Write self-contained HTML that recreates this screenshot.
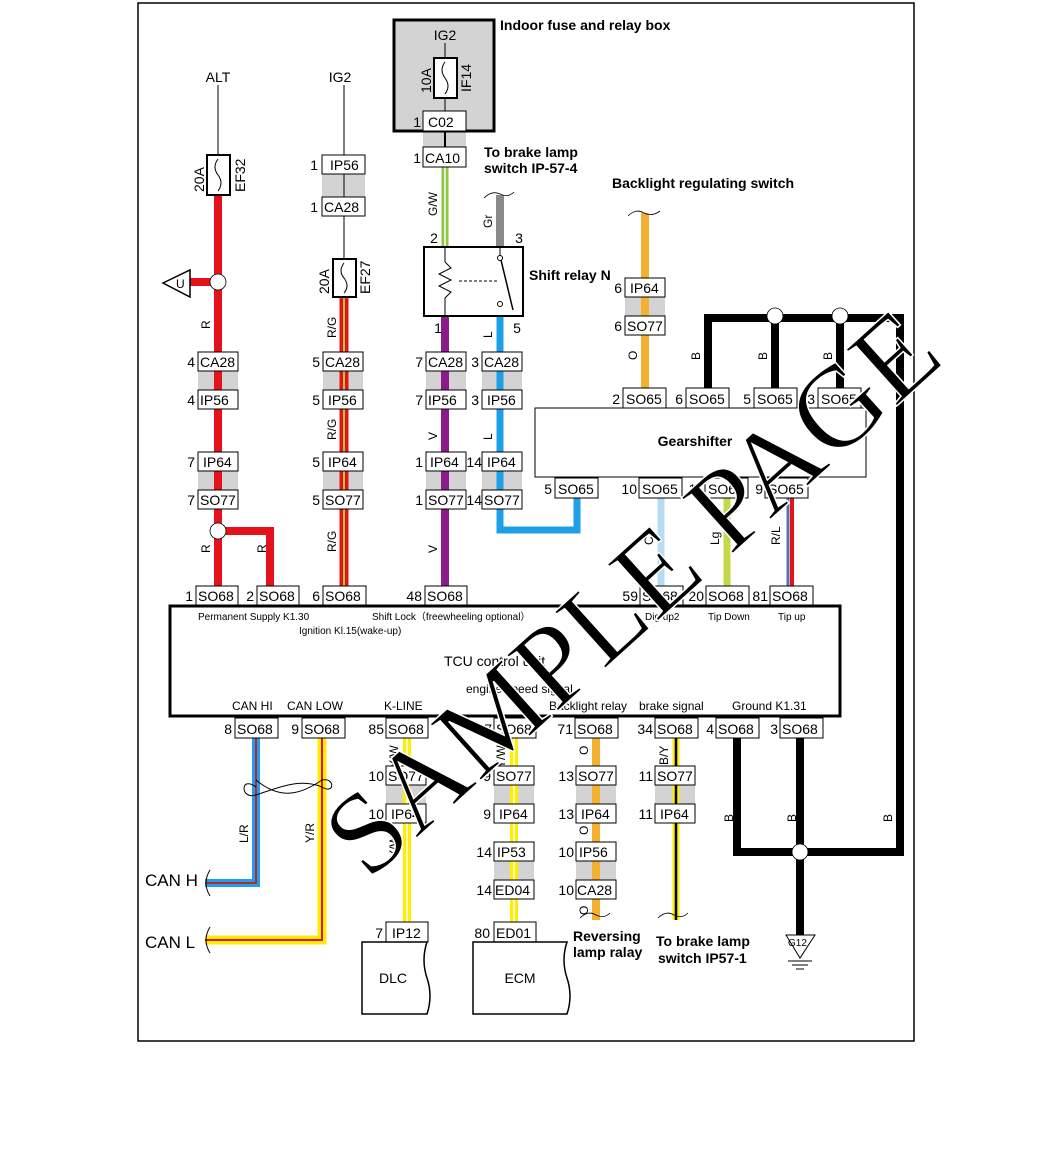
<!DOCTYPE html>
<html><head><meta charset="utf-8"><style>
html,body{margin:0;padding:0;background:#fff}
svg{display:block}
text{font-family:"Liberation Sans",sans-serif}
.c{fill:#fff;stroke:#000;stroke-width:1}
.t{font-size:14px}
.n{font-size:14px;text-anchor:end}
.b{font-weight:bold;font-size:14px}
.s{font-size:10px}
.l{font-size:12px}
</style></head><body>
<svg width="1053" height="1153" viewBox="0 0 1053 1153" xmlns="http://www.w3.org/2000/svg">
<rect x="138" y="3" width="776" height="1038" fill="none" stroke="#000" stroke-width="1.5"/>

<g fill="#d3d3d3">
<rect x="322" y="174" width="43" height="23"/>
<rect x="198" y="371" width="40" height="19"/><rect x="323" y="371" width="40" height="19"/><rect x="426" y="371" width="40" height="19"/><rect x="482" y="371" width="40" height="19"/>
<rect x="198" y="471" width="40" height="19"/><rect x="323" y="471" width="40" height="19"/><rect x="426" y="471" width="40" height="19"/><rect x="482" y="471" width="40" height="19"/>
<rect x="625" y="297" width="40" height="19"/>
<rect x="423" y="131" width="43" height="16"/>
<rect x="386" y="785" width="40" height="19"/><rect x="494" y="785" width="40" height="19"/><rect x="576" y="785" width="40" height="19"/><rect x="655" y="785" width="40" height="19"/>
<rect x="494" y="861" width="40" height="19"/><rect x="576" y="861" width="40" height="19"/>
</g>

<rect x="394" y="20" width="100" height="111" fill="#d3d3d3" stroke="#000" stroke-width="3"/>
<text x="445" y="40" class="t" text-anchor="middle">IG2</text>
<line x1="445" y1="43" x2="445" y2="58" stroke="#000"/>
<rect x="434" y="58" width="23" height="40" fill="#fff" stroke="#000" stroke-width="2"/>
<path d="M445 62 q-6 8 0 16 q6 8 0 16" fill="none" stroke="#000"/>
<text transform="translate(431,93) rotate(-90)" class="t">10A</text>
<text transform="translate(471,92) rotate(-90)" class="t">IF14</text>
<line x1="445" y1="98" x2="445" y2="111" stroke="#000"/>
<rect x="423" y="111" width="43" height="20" class="c"/><text x="428" y="127" class="t">C02</text><text x="421" y="127" class="n">1</text>
<line x1="445" y1="131" x2="445" y2="147" stroke="#000" stroke-width="2"/>
<text x="500" y="30" class="b">Indoor fuse and relay box</text>

<line x1="218" y1="85" x2="218" y2="155" stroke="#000"/>
<line x1="218" y1="195" x2="218" y2="587" stroke="#e3121c" stroke-width="8"/>
<line x1="190" y1="282" x2="218" y2="282" stroke="#e3121c" stroke-width="8"/>
<polyline points="218,531 270,531 270,587" fill="none" stroke="#e3121c" stroke-width="8"/>
<line x1="344" y1="85" x2="344" y2="260" stroke="#000"/>
<line x1="344" y1="297" x2="344" y2="587" stroke="#e3121c" stroke-width="9"/>
<line x1="344" y1="297" x2="344" y2="587" stroke="#a8d030" stroke-width="2"/>
<line x1="445" y1="167" x2="445" y2="247" stroke="#8dc63f" stroke-width="7"/>
<line x1="445" y1="167" x2="445" y2="247" stroke="#fff" stroke-width="1.5"/>
<line x1="500" y1="195" x2="500" y2="247" stroke="#8a8a8a" stroke-width="8"/>
<path d="M484 198 q8 -8 16 -4 q8 4 14 -2" fill="none" stroke="#000" stroke-width="0.8"/>
<line x1="445" y1="316" x2="445" y2="587" stroke="#8b1a8b" stroke-width="8"/>
<polyline points="500,316 500,530 577,530 577,497" fill="none" stroke="#1ea0e6" stroke-width="7"/>
<line x1="645" y1="213" x2="645" y2="390" stroke="#f4b030" stroke-width="8"/>
<path d="M628 216 q8 -8 16 -3 q8 4 16 -2" fill="none" stroke="#000" stroke-width="0.8"/>
<polyline points="708,390 708,318 900,318 900,852 737,852 737,737" fill="none" stroke="#000" stroke-width="8"/>
<line x1="775" y1="318" x2="775" y2="390" stroke="#000" stroke-width="8"/>
<line x1="840" y1="318" x2="840" y2="390" stroke="#000" stroke-width="8"/>
<line x1="800" y1="737" x2="800" y2="935" stroke="#000" stroke-width="8"/>
<circle cx="775" cy="316" r="8" fill="#fff" stroke="#000" stroke-width="0.8"/>
<circle cx="840" cy="316" r="8" fill="#fff" stroke="#000" stroke-width="0.8"/>
<circle cx="800" cy="852" r="8" fill="#fff" stroke="#000" stroke-width="0.8"/>
<line x1="661" y1="498" x2="661" y2="587" stroke="#b5dcf2" stroke-width="7"/>
<line x1="727" y1="498" x2="727" y2="587" stroke="#c5d84a" stroke-width="7"/>
<line x1="788" y1="498" x2="788" y2="587" stroke="#5a6fb0" stroke-width="3"/>
<line x1="792" y1="498" x2="792" y2="587" stroke="#e3121c" stroke-width="4"/>
<polyline points="256,737 256,883 205,883" fill="none" stroke="#1ea0e6" stroke-width="8"/>
<polyline points="256,737 256,883 205,883" fill="none" stroke="#c0203a" stroke-width="2"/>
<polyline points="322,737 322,940 205,940" fill="none" stroke="#ffee00" stroke-width="9"/>
<polyline points="322,737 322,940 205,940" fill="none" stroke="#e3121c" stroke-width="2"/>
<path d="M256 787 C240 775,240 800,256 795 C280 787,300 778,322 787 C335 795,335 777,322 780 C300 795,280 800,256 780" fill="none" stroke="#000" stroke-width="1"/>
<line x1="407" y1="737" x2="407" y2="922" stroke="#ffee00" stroke-width="8"/>
<line x1="407" y1="737" x2="407" y2="922" stroke="#fff" stroke-width="1.5"/>
<line x1="514" y1="737" x2="514" y2="922" stroke="#ffee00" stroke-width="8"/>
<line x1="514" y1="737" x2="514" y2="922" stroke="#fff" stroke-width="1.5"/>
<line x1="596" y1="737" x2="596" y2="920" stroke="#f4b030" stroke-width="8"/>
<path d="M580 918 q8 -8 16 -3 q8 4 14 -2" fill="none" stroke="#000" stroke-width="0.8"/>
<line x1="676" y1="737" x2="676" y2="920" stroke="#ffee00" stroke-width="7"/>
<line x1="676" y1="737" x2="676" y2="920" stroke="#000" stroke-width="2.5"/>
<path d="M658 918 q8 -8 16 -3 q8 4 14 -2" fill="none" stroke="#000" stroke-width="0.8"/>

<rect x="207" y="155" width="23" height="40" fill="#fff" stroke="#000" stroke-width="2"/>
<path d="M218 159 q-6 8 0 16 q6 8 0 16" fill="none" stroke="#000"/>
<text transform="translate(204,192) rotate(-90)" class="t">20A</text>
<text transform="translate(245,192) rotate(-90)" class="t">EF32</text>
<rect x="333" y="259" width="23" height="38" fill="#fff" stroke="#000" stroke-width="2"/>
<path d="M344 263 q-6 8 0 15 q6 8 0 15" fill="none" stroke="#000"/>
<text transform="translate(329,294) rotate(-90)" class="t">20A</text>
<text transform="translate(370,294) rotate(-90)" class="t">EF27</text>
<text x="218" y="82" class="t" text-anchor="middle">ALT</text>
<text x="340" y="82" class="t" text-anchor="middle">IG2</text>

<polygon points="163,283 190,270 190,297" fill="#fff" stroke="#000" stroke-width="1.5"/>
<text x="176" y="288" class="l">U</text>
<circle cx="218" cy="282" r="8" fill="#fff" stroke="#000" stroke-width="0.8"/>
<circle cx="218" cy="531" r="8" fill="#fff" stroke="#000" stroke-width="0.8"/>

<rect x="424" y="247" width="99" height="69" fill="#fff" stroke="#000" stroke-width="2"/>
<line x1="445" y1="247" x2="445" y2="262" stroke="#000"/>
<polyline points="445,262 451,268 439,274 451,280 439,286 451,292 445,298 445,316" fill="none" stroke="#000"/>
<line x1="459" y1="281" x2="497" y2="281" stroke="#000" stroke-dasharray="3,2"/>
<line x1="500" y1="247" x2="500" y2="256" stroke="#000"/>
<circle cx="500" cy="258" r="2.5" fill="#fff" stroke="#000"/>
<line x1="501" y1="260" x2="513" y2="310" stroke="#000" stroke-width="1.5"/>
<circle cx="500" cy="304" r="2.5" fill="#fff" stroke="#000"/>
<text x="434" y="243" class="t" text-anchor="middle">2</text><text x="519" y="243" class="t" text-anchor="middle">3</text>
<text x="438" y="333" class="t" text-anchor="middle">1</text><text x="517" y="333" class="t" text-anchor="middle">5</text>
<text x="529" y="280" class="b">Shift relay N</text>
<text x="484" y="157" class="b">To brake lamp</text>
<text x="484" y="173" class="b">switch IP-57-4</text>
<text x="612" y="188" class="b">Backlight regulating switch</text>

<g class="l">
<text transform="translate(210,329) rotate(-90)">R</text>
<text transform="translate(336,338) rotate(-90)">R/G</text>
<text transform="translate(336,440) rotate(-90)">R/G</text>
<text transform="translate(336,552) rotate(-90)">R/G</text>
<text transform="translate(437,216) rotate(-90)">G/W</text>
<text transform="translate(492,228) rotate(-90)">Gr</text>
<text transform="translate(492,338) rotate(-90)">L</text>
<text transform="translate(437,440) rotate(-90)">V</text>
<text transform="translate(492,440) rotate(-90)">L</text>
<text transform="translate(437,553) rotate(-90)">V</text>
<text transform="translate(210,553) rotate(-90)">R</text>
<text transform="translate(266,553) rotate(-90)">R</text>
<text transform="translate(637,360) rotate(-90)">O</text>
<text transform="translate(700,360) rotate(-90)">B</text>
<text transform="translate(767,360) rotate(-90)">B</text>
<text transform="translate(832,360) rotate(-90)">B</text>
<text transform="translate(653,545) rotate(-90)">C</text>
<text transform="translate(719,545) rotate(-90)">Lg</text>
<text transform="translate(780,545) rotate(-90)">R/L</text>
<text transform="translate(248,843) rotate(-90)">L/R</text>
<text transform="translate(314,843) rotate(-90)">Y/R</text>
<text transform="translate(398,768) rotate(-90)">Y/W</text>
<text transform="translate(398,858) rotate(-90)">Y/W</text>
<text transform="translate(505,768) rotate(-90)">Y/W</text>
<text transform="translate(588,755) rotate(-90)">O</text>
<text transform="translate(588,835) rotate(-90)">O</text>
<text transform="translate(588,915) rotate(-90)">O</text>
<text transform="translate(668,765) rotate(-90)">B/Y</text>
<text transform="translate(733,822) rotate(-90)">B</text>
<text transform="translate(796,822) rotate(-90)">B</text>
<text transform="translate(892,822) rotate(-90)">B</text>
</g>

<g>
<rect x="322" y="155" width="43" height="19" class="c"/><text x="330" y="170" class="t">IP56</text><text x="318" y="170" class="n">1</text>
<rect x="322" y="197" width="43" height="19" class="c"/><text x="324" y="212" class="t">CA28</text><text x="318" y="212" class="n">1</text>
<rect x="423" y="147" width="43" height="20" class="c"/><text x="425" y="163" class="t">CA10</text><text x="421" y="163" class="n">1</text>

<rect x="198" y="352" width="40" height="19" class="c"/><text x="200" y="367" class="t">CA28</text><text x="195" y="367" class="n">4</text>
<rect x="198" y="390" width="40" height="19" class="c"/><text x="200" y="405" class="t">IP56</text><text x="195" y="405" class="n">4</text>
<rect x="198" y="452" width="40" height="19" class="c"/><text x="203" y="467" class="t">IP64</text><text x="195" y="467" class="n">7</text>
<rect x="198" y="490" width="40" height="19" class="c"/><text x="200" y="505" class="t">SO77</text><text x="195" y="505" class="n">7</text>

<rect x="323" y="352" width="40" height="19" class="c"/><text x="325" y="367" class="t">CA28</text><text x="320" y="367" class="n">5</text>
<rect x="323" y="390" width="40" height="19" class="c"/><text x="328" y="405" class="t">IP56</text><text x="320" y="405" class="n">5</text>
<rect x="323" y="452" width="40" height="19" class="c"/><text x="328" y="467" class="t">IP64</text><text x="320" y="467" class="n">5</text>
<rect x="323" y="490" width="40" height="19" class="c"/><text x="325" y="505" class="t">SO77</text><text x="320" y="505" class="n">5</text>

<rect x="426" y="352" width="40" height="19" class="c"/><text x="428" y="367" class="t">CA28</text><text x="423" y="367" class="n">7</text>
<rect x="426" y="390" width="40" height="19" class="c"/><text x="428" y="405" class="t">IP56</text><text x="423" y="405" class="n">7</text>
<rect x="426" y="452" width="40" height="19" class="c"/><text x="430" y="467" class="t">IP64</text><text x="423" y="467" class="n">1</text>
<rect x="426" y="490" width="40" height="19" class="c"/><text x="428" y="505" class="t">SO77</text><text x="423" y="505" class="n">1</text>

<rect x="482" y="352" width="40" height="19" class="c"/><text x="484" y="367" class="t">CA28</text><text x="479" y="367" class="n">3</text>
<rect x="482" y="390" width="40" height="19" class="c"/><text x="487" y="405" class="t">IP56</text><text x="479" y="405" class="n">3</text>
<rect x="482" y="452" width="40" height="19" class="c"/><text x="487" y="467" class="t">IP64</text><text x="482" y="467" class="n">14</text>
<rect x="482" y="490" width="40" height="19" class="c"/><text x="484" y="505" class="t">SO77</text><text x="482" y="505" class="n">14</text>

<rect x="625" y="278" width="40" height="19" class="c"/><text x="630" y="293" class="t">IP64</text><text x="622" y="293" class="n">6</text>
<rect x="625" y="316" width="40" height="19" class="c"/><text x="627" y="331" class="t">SO77</text><text x="622" y="331" class="n">6</text>

<rect x="535" y="408" width="331" height="69" fill="#fff" stroke="#000" stroke-width="1"/>
<text x="695" y="446" class="b" text-anchor="middle">Gearshifter</text>
<rect x="623" y="388" width="43" height="20" class="c"/><text x="626" y="404" class="t">SO65</text><text x="620" y="404" class="n">2</text>
<rect x="686" y="388" width="43" height="20" class="c"/><text x="689" y="404" class="t">SO65</text><text x="683" y="404" class="n">6</text>
<rect x="754" y="388" width="43" height="20" class="c"/><text x="757" y="404" class="t">SO65</text><text x="751" y="404" class="n">5</text>
<rect x="818" y="388" width="43" height="20" class="c"/><text x="821" y="404" class="t">SO65</text><text x="815" y="404" class="n">3</text>
<rect x="555" y="478" width="43" height="20" class="c"/><text x="558" y="494" class="t">SO65</text><text x="552" y="494" class="n">5</text>
<rect x="639" y="478" width="43" height="20" class="c"/><text x="642" y="494" class="t">SO65</text><text x="637" y="494" class="n">10</text>
<rect x="705" y="478" width="43" height="20" class="c"/><text x="708" y="494" class="t">SO65</text><text x="703" y="494" class="n">11</text>
<rect x="765" y="478" width="43" height="20" class="c"/><text x="768" y="494" class="t">SO65</text><text x="763" y="494" class="n">9</text>

<rect x="196" y="586" width="42" height="19" class="c"/><text x="198" y="601" class="t">SO68</text><text x="193" y="601" class="n">1</text>
<rect x="257" y="586" width="42" height="19" class="c"/><text x="259" y="601" class="t">SO68</text><text x="254" y="601" class="n">2</text>
<rect x="323" y="586" width="43" height="19" class="c"/><text x="325" y="601" class="t">SO68</text><text x="320" y="601" class="n">6</text>
<rect x="425" y="586" width="42" height="19" class="c"/><text x="427" y="601" class="t">SO68</text><text x="422" y="601" class="n">48</text>
<rect x="640" y="586" width="43" height="19" class="c"/><text x="642" y="601" class="t">SO68</text><text x="638" y="601" class="n">59</text>
<rect x="706" y="586" width="43" height="19" class="c"/><text x="708" y="601" class="t">SO68</text><text x="704" y="601" class="n">20</text>
<rect x="770" y="586" width="43" height="19" class="c"/><text x="772" y="601" class="t">SO68</text><text x="768" y="601" class="n">81</text>

<rect x="170" y="606" width="670" height="110" fill="#fff" stroke="#000" stroke-width="3"/>
<text x="198" y="620" class="s">Permanent Supply K1.30</text>
<text x="299" y="634" class="s">Ignition Kl.15(wake-up)</text>
<text x="372" y="620" class="s">Shift Lock（freewheeling optional）</text>
<text x="645" y="620" class="s">Dig up2</text>
<text x="708" y="620" class="s">Tip Down</text>
<text x="778" y="620" class="s">Tip up</text>
<text x="444" y="666" class="t">TCU control unit</text>
<text x="466" y="693" class="l">engine speed signal</text>
<g class="l">
<text x="232" y="710">CAN HI</text><text x="287" y="710">CAN LOW</text><text x="384" y="710">K-LINE</text>
<text x="549" y="710">Backlight relay</text><text x="639" y="710">brake signal</text><text x="732" y="710">Ground K1.31</text>
</g>

<rect x="235" y="718" width="43" height="20" class="c"/><text x="237" y="734" class="t">SO68</text><text x="232" y="734" class="n">8</text>
<rect x="302" y="718" width="43" height="20" class="c"/><text x="304" y="734" class="t">SO68</text><text x="299" y="734" class="n">9</text>
<rect x="386" y="718" width="42" height="20" class="c"/><text x="388" y="734" class="t">SO68</text><text x="384" y="734" class="n">85</text>
<rect x="494" y="718" width="42" height="20" class="c"/><text x="496" y="734" class="t">SO68</text><text x="492" y="734" class="n">87</text>
<rect x="575" y="718" width="43" height="20" class="c"/><text x="577" y="734" class="t">SO68</text><text x="573" y="734" class="n">71</text>
<rect x="655" y="718" width="43" height="20" class="c"/><text x="657" y="734" class="t">SO68</text><text x="653" y="734" class="n">34</text>
<rect x="716" y="718" width="43" height="20" class="c"/><text x="718" y="734" class="t">SO68</text><text x="714" y="734" class="n">4</text>
<rect x="780" y="718" width="43" height="20" class="c"/><text x="782" y="734" class="t">SO68</text><text x="778" y="734" class="n">3</text>

<rect x="386" y="766" width="40" height="19" class="c"/><text x="388" y="781" class="t">SO77</text><text x="384" y="781" class="n">10</text>
<rect x="386" y="804" width="40" height="19" class="c"/><text x="391" y="819" class="t">IP64</text><text x="384" y="819" class="n">10</text>
<rect x="494" y="766" width="40" height="19" class="c"/><text x="496" y="781" class="t">SO77</text><text x="491" y="781" class="n">9</text>
<rect x="494" y="804" width="40" height="19" class="c"/><text x="499" y="819" class="t">IP64</text><text x="491" y="819" class="n">9</text>
<rect x="494" y="842" width="40" height="19" class="c"/><text x="497" y="857" class="t">IP53</text><text x="492" y="857" class="n">14</text>
<rect x="494" y="880" width="40" height="19" class="c"/><text x="495" y="895" class="t">ED04</text><text x="492" y="895" class="n">14</text>
<rect x="576" y="766" width="40" height="19" class="c"/><text x="578" y="781" class="t">SO77</text><text x="574" y="781" class="n">13</text>
<rect x="576" y="804" width="40" height="19" class="c"/><text x="581" y="819" class="t">IP64</text><text x="574" y="819" class="n">13</text>
<rect x="576" y="842" width="40" height="19" class="c"/><text x="579" y="857" class="t">IP56</text><text x="574" y="857" class="n">10</text>
<rect x="576" y="880" width="40" height="19" class="c"/><text x="577" y="895" class="t">CA28</text><text x="574" y="895" class="n">10</text>
<rect x="655" y="766" width="40" height="19" class="c"/><text x="657" y="781" class="t">SO77</text><text x="653" y="781" class="n">11</text>
<rect x="655" y="804" width="40" height="19" class="c"/><text x="660" y="819" class="t">IP64</text><text x="653" y="819" class="n">11</text>

<rect x="386" y="922" width="42" height="20" class="c"/><text x="392" y="938" class="t">IP12</text><text x="383" y="938" class="n">7</text>
<rect x="494" y="922" width="42" height="20" class="c"/><text x="496" y="938" class="t">ED01</text><text x="490" y="938" class="n">80</text>
</g>

<path d="M362 942 H427 q-6 18 0 36 q6 18 0 36 H362 Z" fill="#fff" stroke="#000" stroke-width="1.5"/>
<text x="393" y="983" class="t" text-anchor="middle">DLC</text>
<path d="M473 942 H567 q-6 18 0 36 q6 18 0 36 H473 Z" fill="#fff" stroke="#000" stroke-width="1.5"/>
<text x="520" y="983" class="t" text-anchor="middle">ECM</text>

<text x="573" y="941" class="b">Reversing</text><text x="573" y="957" class="b">lamp ralay</text>
<text x="656" y="946" class="b">To brake lamp</text><text x="658" y="963" class="b">switch IP57-1</text>

<text x="145" y="886" style="font-size:17px">CAN H</text>
<text x="145" y="948" style="font-size:17px">CAN L</text>
<path d="M210 870 q-8 13 0 26" fill="none" stroke="#000"/>
<path d="M210 927 q-8 13 0 26" fill="none" stroke="#000"/>

<polygon points="786,935 815,935 800,958" fill="#fff" stroke="#000"/>
<text x="788" y="946" style="font-size:10px">G12</text>
<line x1="788" y1="961" x2="812" y2="961" stroke="#000"/>
<line x1="792" y1="965" x2="808" y2="965" stroke="#000"/>
<line x1="796" y1="969" x2="804" y2="969" stroke="#000"/>

<text transform="translate(368,882) rotate(-42)" style="font-family:'Liberation Serif',serif;font-size:116px;fill:#000;stroke:#fff;stroke-width:1.5;paint-order:fill">SAMPLE PAGE</text>
</svg>
</body></html>
